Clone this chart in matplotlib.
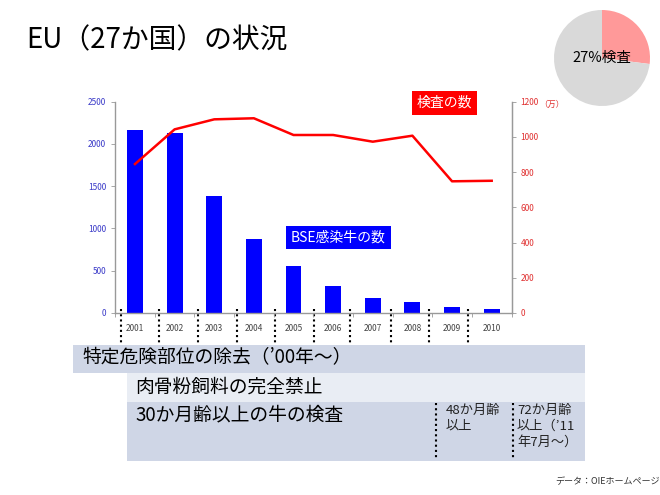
import numpy as np
import matplotlib
matplotlib.use('Agg')
import matplotlib.pyplot as plt
from matplotlib.patches import Rectangle

plt.rcParams['font.family'] = ['Noto Sans CJK JP', 'DejaVu Sans']

# data
years = ['2001', '2002', '2003', '2004', '2005', '2006', '2007', '2008', '2009', '2010']
bse_cases = [2167, 2124, 1389, 878, 561, 320, 175, 125, 67, 45]
tests = [846, 1043, 1100, 1106, 1011, 1011, 973, 1007, 748, 751]   # 万
left_ticks = [0, 500, 1000, 1500, 2000, 2500]
right_ticks = [0, 200, 400, 600, 800, 1000, 1200]
pie_share = [27, 73]

W, H = 660, 495
fig = plt.figure(figsize=(W / 100, H / 100), dpi=100)
fig.patch.set_facecolor('white')

# overlay in pixel coordinates for the slide decorations
ov = fig.add_axes([0, 0, 1, 1], zorder=0)
ov.set_xlim(0, W)
ov.set_ylim(H, 0)
ov.axis('off')

ov.text(26, 40, 'EU（27か国）の状況', fontsize=20, va='center', ha='left', color='black')

# measures table
ov.add_patch(Rectangle((73, 345), 512, 28, color='#CFD6E6', lw=0))
ov.add_patch(Rectangle((127, 373), 458, 29, color='#E9EDF4', lw=0))
ov.add_patch(Rectangle((127, 402), 458, 59, color='#CFD6E6', lw=0))
ov.text(82, 358, '特定危険部位の除去（’00年～）', fontsize=13.5, va='center')
ov.text(135, 387, '肉骨粉飼料の完全禁止', fontsize=13.5, va='center')
ov.text(135, 415, '30か月齢以上の牛の検査', fontsize=13.5, va='center')
ov.text(446, 404, '48か月齢\n以上', fontsize=9.5, va='top', linespacing=1.3, color='#222222')
ov.text(517, 404, '72か月齢\n以上（’11\n年7月～）', fontsize=9.5, va='top', linespacing=1.3, color='#222222')
for xx in [436, 513]:
    ov.plot([xx, xx], [403, 460], color='black', ls=(0, (1, 1.5)), lw=1.5)

ov.text(555, 482, 'データ：OIEホームページ', fontsize=6.5, va='center', color='#333333')

# main chart
ax = fig.add_axes([0.1745, 0.3677, 0.6005, 0.4268], zorder=2)
ax.patch.set_alpha(0)
x = np.arange(len(years))
ax.bar(x, bse_cases, width=0.4, color='#0000FF')
ax.set_xlim(-0.5, len(years) - 0.5)
ax.set_ylim(0, 2500)
ax.set_yticks(left_ticks)
ax.set_xticks(x)
ax.set_xticklabels(years)
ax.tick_params(axis='y', labelsize=6, colors='#3a3ac8', length=3, width=0.6)
ax.tick_params(axis='x', labelsize=6, colors='#444444', length=0, pad=8)
ax.set_xticks(np.arange(len(years) + 1) - 0.5, minor=True)
ax.tick_params(axis='x', which='minor', length=3, color='#999999')
ax.spines['top'].set_visible(False)
for s in ['left', 'right', 'bottom']:
    ax.spines[s].set_color('#999999')
    ax.spines[s].set_linewidth(1)
ax.tick_params(axis='y', color='#999999')

ax2 = ax.twinx()
ax2.plot(x, tests, color='#FF0000', lw=1.8)
ax2.set_ylim(0, 1200)
ax2.set_yticks(right_ticks)
ax2.tick_params(axis='y', labelsize=6, length=3, width=0.6, color='#999999', labelcolor='#e03030')
ax2.spines['top'].set_visible(False)
ax2.spines['right'].set_color('#999999')
ax2.spines['left'].set_visible(False)
ax2.spines['bottom'].set_visible(False)
ax2.text(1.07, 0.985, '（万）', transform=ax2.transAxes, fontsize=6, color='#e03030', va='center')

ax.text(0.83, 0.994, '検査の数', transform=ax.transAxes, fontsize=10, color='white',
        ha='center', va='center',
        bbox=dict(boxstyle='square,pad=0.35', fc='#FF0000', ec='none'))
ax.text(0.563, 0.357, 'BSE感染牛の数', transform=ax.transAxes, fontsize=10, color='white',
        ha='center', va='center',
        bbox=dict(boxstyle='square,pad=0.35', fc='#0000FF', ec='none'))

# dotted year separators below the chart
for xx in [120.7, 158.7, 198.3, 236.7, 275.3, 314.3, 350, 390.7, 429.3, 467.7]:
    ov.plot([xx, xx], [309, 345], color='black', ls=(0, (1, 1.5)), lw=1.5, zorder=3)

# pie
pax = fig.add_axes([554 / W, 1 - 106 / H, 96 / W, 96 / H])
pax.pie(pie_share, colors=['#FF9999', '#D9D9D9'], startangle=90, counterclock=False,
        wedgeprops=dict(linewidth=0))
pax.set_xlim(-1, 1)
pax.set_ylim(-1, 1)
pax.set_aspect('equal')
pax.text(0, 0, '27%検査', ha='center', va='center', fontsize=10.5, color='black')

fig.savefig('out.png', dpi=100, facecolor='white')
